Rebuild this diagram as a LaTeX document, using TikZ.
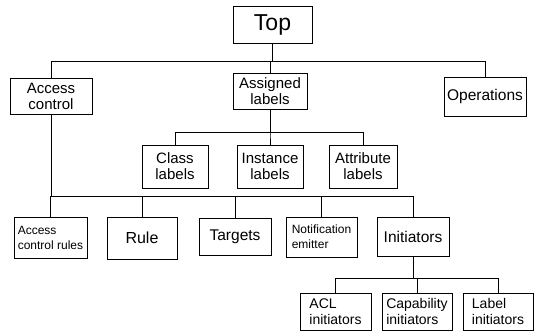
\documentclass[tikz,border=0pt]{standalone}
\usepackage{fontspec}
\setmainfont{Liberation Sans}
\tikzset{
  box/.style={draw, line width=0.8pt, inner sep=1pt, align=center},
  sz/.style 2 args={minimum width=#1pt, minimum height=#2pt},
  bigtxt/.style={font=\fontsize{23}{25}\selectfont},
  midtxt/.style={font=\fontsize{15}{16}\selectfont},
  lowtxt/.style={font=\fontsize{14}{15.5}\selectfont},
  smalltxt/.style={font=\fontsize{12}{15}\selectfont},
}
\begin{document}
\begin{tikzpicture}[x=1pt, y=-1pt]
  \useasboundingbox (0,0) rectangle (537,330);
  % first level
  \node[box, bigtxt, sz={79}{37}] (top) at (272.5,24.5) {Top};
  \node[box, midtxt, sz={82}{36}] (ac) at (51,96) {Access\\control};
  \node[box, midtxt, sz={74}{36}] (al) at (270,91) {Assigned\\labels};
  \node[box, font=\fontsize{15.5}{17}\selectfont, sz={82}{39}] (ops) at (485,96.5) {Operations};
  % labels
  \node[box, midtxt, sz={66}{43}] (cls) at (175,166.5) {Class\\labels};
  \node[box, midtxt, sz={66}{43}] (ins) at (270,166.5) {Instance\\labels};
  \node[box, midtxt, sz={68}{43}] (att) at (363,166.5) {Attribute\\labels};
  % access control
  \node[box, smalltxt, align=left, sz={73}{41}] (acr) at (50.5,237.5) {Access\\control rules};
  \node[box, font=\fontsize{16}{18}\selectfont, sz={70}{42}] (rul) at (142,238) {Rule};
  \node[box, font=\fontsize{15.5}{17}\selectfont, sz={72}{37}] (tgt) at (235,236.5) {Targets};
  \node[box, smalltxt, align=left, sz={71}{40}] (ntf) at (321.5,237) {Notification\\emitter};
  \node[box, font=\fontsize{15.5}{17}\selectfont, sz={72}{39}] (ini) at (413,236.5) {Initiators};
  % initiators
  \node[box, lowtxt, align=left, sz={71}{37}] (acl) at (335.5,311.5) {ACL\\initiators};
  \node[box, lowtxt, align=left, sz={70}{37}] (cap) at (417,311.5) {Capability\\initiators};
  \node[box, lowtxt, align=left, sz={70}{37}] (lab) at (498,311.5) {Label\\initiators};
  \begin{scope}[line width=0.8pt]
    \foreach \c in {ac,al,ops}
      \draw (top.south) -- ++(0,18) -| (\c.north);
    \foreach \c in {cls,ins,att}
      \draw (al.south) -- ++(0,23) -| (\c.north);
    \foreach \c in {acr,rul,tgt,ntf,ini}
      \draw (ac.south) -- ++(0,82) -| (\c.north);
    \foreach \c in {acl,cap,lab}
      \draw (ini.south) -- ++(0,22) -| (\c.north);
  \end{scope}
\end{tikzpicture}
\end{document}
